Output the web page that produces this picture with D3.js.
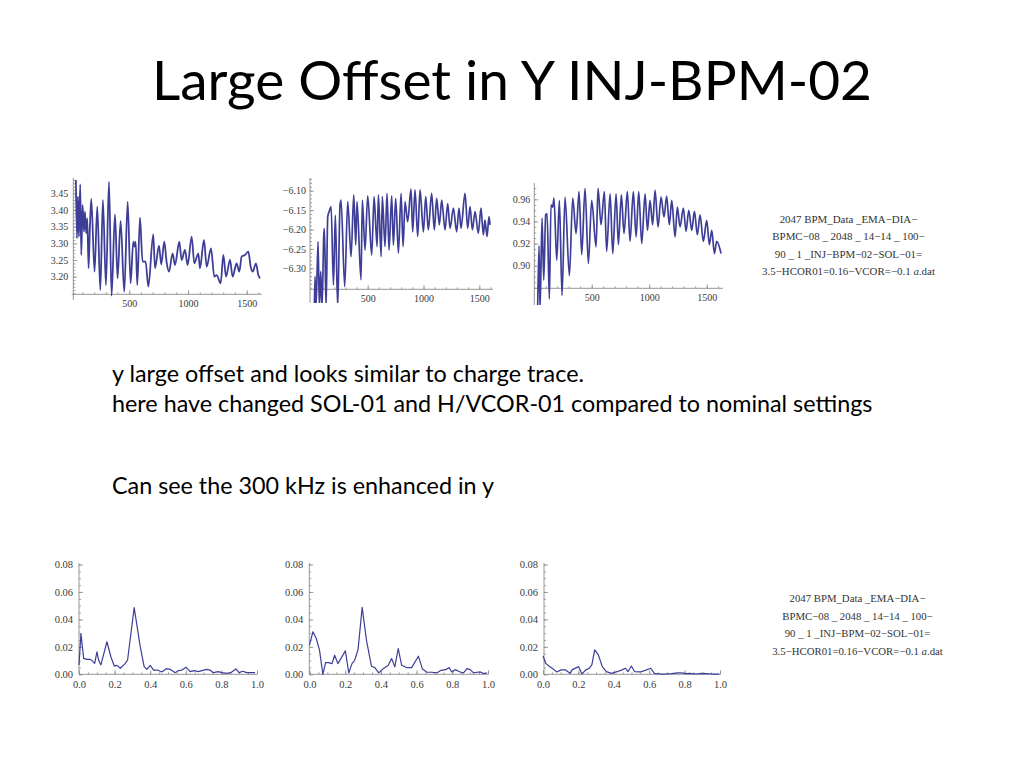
<!DOCTYPE html>
<html><head><meta charset="utf-8">
<script src="https://cdn.jsdelivr.net/npm/d3@7"></script>
<style>body{margin:0;background:#fff}svg{display:block}</style>
</head><body>
<svg id="c" width="1024" height="768"></svg>
<script>
// ---------- DATA ----------
const titleText = "Large Offset in Y INJ-BPM-02";
const bodyLines = [
  "y large offset and looks similar to charge trace.",
  "here have changed SOL-01 and H/VCOR-01 compared to nominal settings",
  "Can see the 300 kHz is enhanced in y"
];
const fileLines = [
  "2047 BPM_Data _EMA\u2212DIA\u2212",
  "BPMC\u221208 _ 2048 _ 14\u221214 _ 100\u2212",
  "90 _ 1 _INJ\u2212BPM\u221202\u2212SOL\u221201=",
  "3.5\u2212HCOR01=0.16\u2212VCOR=\u22120.1 "
];

const timeTicks = [500, 1000, 1500];
const freqTicks = [0, 0.2, 0.4, 0.6, 0.8, 1.0];
const ampTicks = [0, 0.02, 0.04, 0.06, 0.08];
const p1YTicks = [3.20, 3.25, 3.30, 3.35, 3.40, 3.45];
const p2YTicks = [-6.30, -6.25, -6.20, -6.15, -6.10];
const p3YTicks = [0.90, 0.92, 0.94, 0.96];

// top-left trace (turning points)
const p1T = [45,54,62,71,82,91,102,114,122,133,142,153,165,176,204,227,253,275,301,327,349,378,400,426,457,486,511,534,545,554,568,591,613,639,662,704,719,753,772,798,818,838,869,889,926,946,974,997,1031,1054,1088,1102,1136,1159,1196,1224,1244,1278,1301,1324,1358,1380,1414,1437,1457,1485,1514,1534,1551,1579,1599,1613];
const p1V = [3.49,3.315,3.44,3.32,3.477,3.265,3.415,3.335,3.395,3.33,3.375,3.225,3.355,3.433,3.215,3.41,3.16,3.43,3.175,3.485,3.143,3.387,3.195,3.367,3.155,3.425,3.18,3.305,3.29,3.305,3.175,3.377,3.245,3.245,3.17,3.327,3.225,3.293,3.237,3.305,3.243,3.215,3.27,3.235,3.305,3.25,3.28,3.235,3.32,3.24,3.27,3.225,3.31,3.23,3.285,3.2,3.205,3.18,3.265,3.2,3.25,3.2,3.24,3.215,3.26,3.265,3.275,3.23,3.215,3.24,3.205,3.195];

// top-middle trace
const p2T = [22,28,37,55,67,79,91,106,112,127,142,157,172,193,210,231,252,261,294,321,351,375,393,404,440,452,476,500,536,557,584,596,620,631,655,673,691,715,730,751,775,799,817,835,858,888,903,924,948,969,999,1020,1043,1073,1097,1118,1142,1163,1193,1217,1238,1268,1297,1318,1336,1372,1396,1417,1438,1462,1491,1515,1536,1551,1569,1587,1596];
const p2V = [-6.40,-6.321,-6.40,-6.231,-6.40,-6.308,-6.40,-6.218,-6.197,-6.40,-6.167,-6.152,-6.141,-6.343,-6.163,-6.40,-6.137,-6.124,-6.347,-6.128,-6.27,-6.111,-6.24,-6.128,-6.33,-6.124,-6.253,-6.113,-6.266,-6.115,-6.244,-6.111,-6.27,-6.115,-6.244,-6.107,-6.253,-6.113,-6.24,-6.12,-6.261,-6.107,-6.244,-6.128,-6.18,-6.096,-6.206,-6.098,-6.218,-6.098,-6.206,-6.115,-6.201,-6.107,-6.201,-6.12,-6.188,-6.124,-6.201,-6.133,-6.197,-6.145,-6.206,-6.145,-6.197,-6.107,-6.197,-6.141,-6.201,-6.154,-6.21,-6.145,-6.214,-6.176,-6.218,-6.167,-6.188];

// top-right trace (charge)
const p3T = [30,42,51,68,83,100,112,132,146,161,172,196,219,242,268,306,335,364,390,413,442,471,500,538,555,581,610,630,660,683,712,732,758,781,810,833,862,886,909,935,964,985,1007,1030,1051,1077,1103,1129,1152,1175,1196,1225,1245,1268,1297,1320,1344,1370,1393,1419,1442,1471,1500,1523,1544,1567,1587,1625];
const p3V = [0.86,0.918,0.86,0.943,0.887,0.946,0.947,0.870,0.955,0.953,0.961,0.905,0.959,0.873,0.962,0.891,0.961,0.929,0.967,0.91,0.970,0.902,0.959,0.917,0.970,0.937,0.967,0.913,0.965,0.911,0.965,0.919,0.964,0.929,0.967,0.922,0.967,0.926,0.967,0.92,0.965,0.932,0.959,0.937,0.968,0.935,0.962,0.944,0.963,0.937,0.959,0.926,0.953,0.935,0.952,0.931,0.950,0.932,0.949,0.928,0.946,0.922,0.941,0.919,0.932,0.911,0.922,0.911];

// spectra
const p4F = [0,0.011,0.026,0.045,0.064,0.079,0.088,0.101,0.110,0.123,0.157,0.179,0.198,0.213,0.232,0.260,0.273,0.310,0.344,0.366,0.381,0.400,0.419,0.441,0.465,0.490,0.512,0.540,0.559,0.578,0.602,0.624,0.647,0.671,0.690,0.718,0.736,0.755,0.783,0.802,0.830,0.852,0.882,0.899,0.920,0.942,0.970,0.989];
const p4A = [0.0068,0.0297,0.0116,0.0109,0.0109,0.0092,0.008,0.0164,0.0104,0.0068,0.0237,0.0128,0.006,0.0065,0.0044,0.008,0.0104,0.0486,0.0201,0.0056,0.0036,0.0065,0.0031,0.0031,0.0017,0.0041,0.0036,0.0012,0.0027,0.0031,0.0051,0.0019,0.0027,0.0019,0.0027,0.0036,0.0031,0.0012,0.0019,0.0012,0.0007,0.0012,0.0039,0.0012,0.0022,0.0012,0.0012,0.0012];
const p5F = [0,0.019,0.038,0.056,0.075,0.09,0.107,0.126,0.141,0.159,0.201,0.22,0.238,0.253,0.272,0.295,0.319,0.347,0.366,0.388,0.413,0.441,0.46,0.478,0.497,0.516,0.544,0.572,0.61,0.632,0.657,0.685,0.713,0.737,0.764,0.782,0.797,0.816,0.844,0.863,0.882,0.901,0.919,0.938,0.957,0.976,0.994];
const p5A = [0.0212,0.031,0.0261,0.0176,0.0,0.0085,0.0085,0.0078,0.0139,0.0078,0.0171,0.001,0.0078,0.0102,0.018,0.0488,0.0249,0.0059,0.0049,0.001,0.0041,0.0066,0.0115,0.0054,0.0188,0.0066,0.0049,0.0049,0.0132,0.0041,0.0015,0.0015,0.001,0.0029,0.0034,0.0049,0.0017,0.0034,0.0017,0.001,0.0041,0.0034,0.001,0.0015,0.0017,0.0005,0.001];
const p6F = [0,0.015,0.037,0.06,0.078,0.102,0.127,0.153,0.164,0.201,0.22,0.242,0.261,0.276,0.292,0.313,0.335,0.358,0.387,0.419,0.447,0.466,0.48,0.499,0.518,0.549,0.574,0.609,0.629,0.661,0.689,0.726,0.764,0.782,0.81,0.829,0.866,0.894,0.922,0.959,0.996];
const p6A = [0.0134,0.008,0.0056,0.0036,0.0017,0.0032,0.0032,0.0007,0.0032,0.0056,0.0002,0.0032,0.0044,0.0068,0.0178,0.0141,0.0056,0.0019,0.0007,0.0019,0.0032,0.0044,0.0019,0.0061,0.0019,0.0017,0.0027,0.0044,0.0007,0.0002,0.0002,0.0005,0.001,0.001,0.0005,0.0007,0.0002,0.0007,0.0005,0.0002,0.0002];

// ---------- DRAW ----------
const svg = d3.select('#c');
svg.append('rect').attr('width', 1024).attr('height', 768).attr('fill', '#fff');
const LINE = '#3e3e98', AXIS = '#8a8a8a', LABEL = '#3a3a3a';
const SERIF = "'Liberation Serif','DejaVu Serif',serif";
const SANS = "Lato,'Open Sans',sans-serif";

function fitSize(sel, target) {
  const w = sel.node().getComputedTextLength();
  const s = parseFloat(sel.attr('font-size'));
  return s * target / w;
}

// title
const title = svg.append('text').attr('x', 512).attr('y', 100).attr('text-anchor', 'middle')
  .attr('font-family', SANS).attr('font-size', 56).attr('fill', '#000').text(titleText);
title.attr('font-size', fitSize(title, 720));

// body
const bodyY = [381.7, 411.7, 494];
const bodyT = bodyLines.map((t, i) => svg.append('text').attr('x', 112).attr('y', bodyY[i])
  .attr('font-family', SANS).attr('font-size', 20).attr('fill', '#000').text(t));
const bs = fitSize(bodyT[1], 761);
bodyT.forEach(t => t.attr('font-size', bs));

// file-name captions
function caption(cx, ys, w4) {
  const tx = fileLines.map((t, i) => {
    const e = svg.append('text').attr('x', cx).attr('y', ys[i]).attr('text-anchor', 'middle')
      .attr('font-family', SERIF).attr('font-size', 10.5).attr('fill', '#333').text(t);
    if (i === 3) {
      e.append('tspan').attr('font-style', 'italic').text('a');
      e.append('tspan').text('.dat');
    }
    return e;
  });
  const s = fitSize(tx[3], w4);
  tx.forEach(e => e.attr('font-size', s));
}
caption(848.5, [222.5, 240, 257.5, 275], 173);
caption(857.5, [602, 619.5, 637, 654.5], 171);

let clipN = 0;
function plot(o) {
  const x = d3.scaleLinear().domain(o.xd).range(o.xr);
  const y = d3.scaleLinear().domain(o.yd).range(o.yr);
  const g = svg.append('g').attr('color', AXIS);
  const axY = o.xAxisPx, axX = o.yAxisPx;
  // axis lines
  g.append('line').attr('x1', o.xExt[0]).attr('x2', o.xExt[1]).attr('y1', axY).attr('y2', axY)
    .attr('stroke', AXIS).attr('stroke-width', 0.9);
  g.append('line').attr('x1', axX).attr('x2', axX).attr('y1', o.yExt[0]).attr('y2', o.yExt[1])
    .attr('stroke', AXIS).attr('stroke-width', 0.9);
  const strip = s => { s.select('.domain').remove(); s.selectAll('line').attr('stroke-width', 0.8); };
  // minor ticks
  g.append('g').attr('transform', `translate(0,${axY})`)
    .call(d3.axisBottom(x).tickValues(o.xMinor).tickSize(-2).tickFormat('')).call(strip);
  g.append('g').attr('transform', `translate(${axX},0)`)
    .call(d3.axisLeft(y).tickValues(o.yMinor).tickSize(-2).tickFormat('')).call(strip);
  // major ticks + labels
  const styleT = s => { strip(s); s.attr('font-family', SERIF).attr('font-size', o.fs);
    s.selectAll('text').attr('fill', LABEL); };
  g.append('g').attr('transform', `translate(0,${axY})`)
    .call(d3.axisBottom(x).tickValues(o.xTicks).tickSize(-4).tickPadding(o.xPad).tickFormat(d3.format(o.xFmt))).call(styleT);
  g.append('g').attr('transform', `translate(${axX},0)`)
    .call(d3.axisLeft(y).tickValues(o.yTicks).tickSize(-4).tickPadding(o.yPad).tickFormat(d3.format(o.yFmt))).call(styleT);
  // clip + line
  const id = 'clip' + (clipN++);
  svg.append('clipPath').attr('id', id).append('rect')
    .attr('x', o.clip[0]).attr('y', o.clip[1]).attr('width', o.clip[2] - o.clip[0]).attr('height', o.clip[3] - o.clip[1]);
  svg.append('path').datum(d3.zip(o.t, o.v)).attr('clip-path', `url(#${id})`)
    .attr('fill', 'none').attr('stroke', LINE).attr('stroke-width', o.sw).attr('stroke-linejoin', 'round')
    .attr('d', d3.line().x(d => x(d[0])).y(d => y(d[1])).curve(o.curve));
}

const rng = (a, b, s) => d3.range(Math.round((b - a) / s) + 1).map(i => +(a + i * s).toFixed(4));

// top row
plot({ xd: [500, 1500], xr: [129.3, 246.7], yd: [3.20, 3.45], yr: [276.7, 193.3],
  xAxisPx: 294.3, yAxisPx: 73.3, xExt: [71.7, 261.7], yExt: [178, 300],
  xTicks: timeTicks, xMinor: rng(100, 1600, 100), yTicks: p1YTicks, yMinor: rng(3.15, 3.49, 0.01),
  xFmt: 'd', yFmt: '.2f', fs: 10, xPad: 6, yPad: 5, clip: [73, 174, 264, 298],
  t: p1T, v: p1V, sw: 1.8, curve: d3.curveMonotoneX });
plot({ xd: [500, 1500], xr: [367.7, 479.3], yd: [-6.30, -6.10], yr: [268.3, 190.7],
  xAxisPx: 289.3, yAxisPx: 310, xExt: [310, 493], yExt: [178, 303],
  xTicks: timeTicks, xMinor: rng(100, 1600, 100), yTicks: p2YTicks, yMinor: rng(-6.35, -6.07, 0.01),
  xFmt: 'd', yFmt: '.2f', fs: 10, xPad: 6, yPad: 4, clip: [310, 174, 495, 303],
  t: p2T, v: p2V, sw: 1.7, curve: d3.curveMonotoneX });
plot({ xd: [500, 1500], xr: [591.7, 706.7], yd: [0.90, 0.96], yr: [265.7, 199.3],
  xAxisPx: 288.3, yAxisPx: 534.3, xExt: [534.3, 723], yExt: [183, 305],
  xTicks: timeTicks, xMinor: rng(100, 1600, 100), yTicks: p3YTicks, yMinor: rng(0.88, 0.97, 0.005),
  xFmt: 'd', yFmt: '.2f', fs: 10, xPad: 6, yPad: 4, clip: [534, 180, 725, 305],
  t: p3T, v: p3V, sw: 1.7, curve: d3.curveMonotoneX });

// bottom row
const bot = [
  { x0: 79, x1: 257, ax: 79, t: p4F, v: p4A },
  { x0: 309.5, x1: 488, ax: 309.3, t: p5F, v: p5A },
  { x0: 543, x1: 720, ax: 544, t: p6F, v: p6A }
];
bot.forEach(b => plot({ xd: [0, 1], xr: [b.x0, b.x1], yd: [0, 0.08], yr: [674.3, 564.5],
  xAxisPx: 674.3, yAxisPx: b.ax, xExt: [b.ax, b.x1], yExt: [563, 674.3],
  xTicks: freqTicks, xMinor: rng(0, 1, 0.05), yTicks: ampTicks, yMinor: rng(0, 0.08, 0.005),
  xFmt: '.1f', yFmt: '.2f', fs: 10.5, xPad: 6, yPad: 6, clip: [b.x0 - 3, 560, b.x1 + 3, 676],
  t: b.t, v: b.v, sw: 1.2, curve: d3.curveLinear }));
</script>
</body></html>
